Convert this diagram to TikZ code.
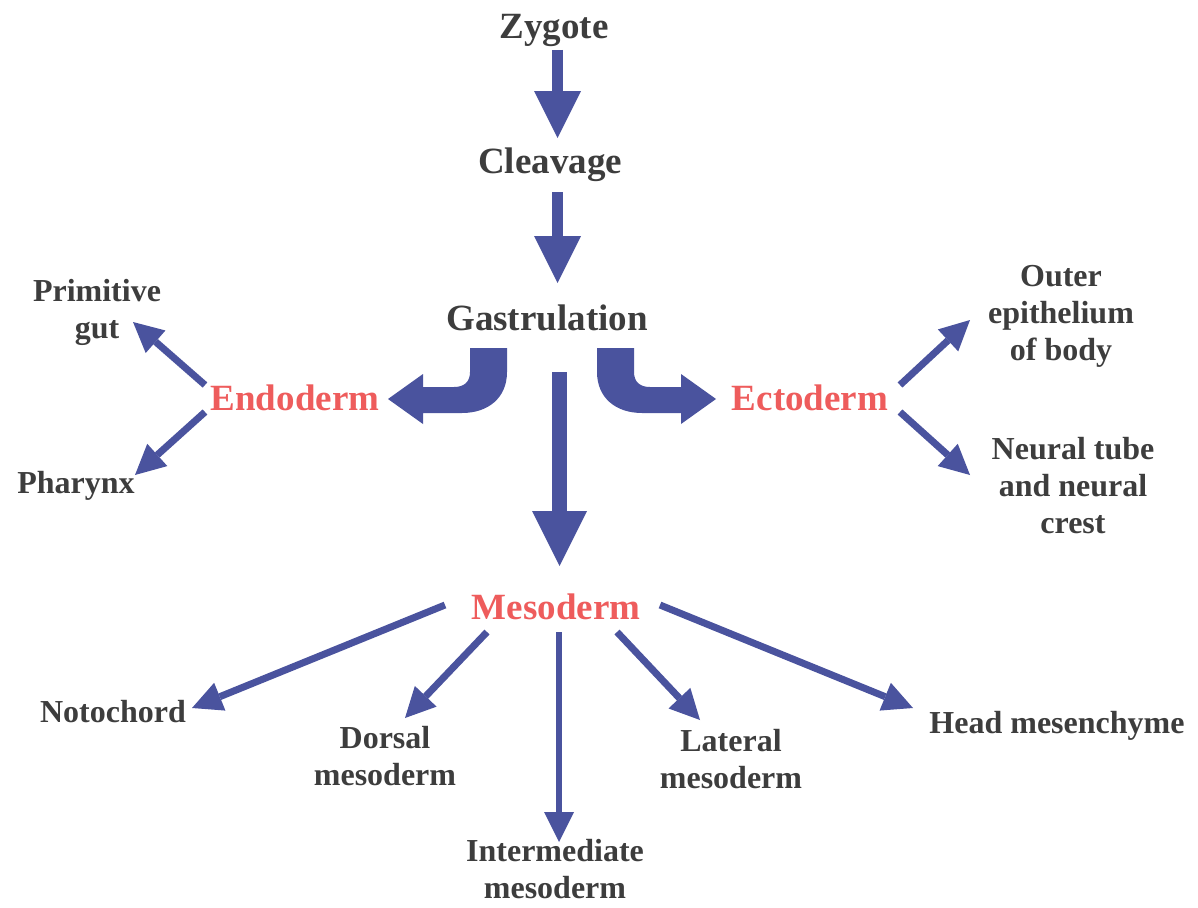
\documentclass[tikz,border=0pt]{standalone}
\usepackage{fontspec}
\setmainfont{Liberation Serif}
\usetikzlibrary{arrows.meta}
\definecolor{ablue}{HTML}{4A539E}
\definecolor{tgray}{HTML}{3D3D3D}
\definecolor{tred}{HTML}{EE5C5C}
\begin{document}
\begin{tikzpicture}[x=1pt,y=-1pt,
  main/.style={font=\fontsize{37}{40}\selectfont\bfseries, text=tgray, inner sep=0pt, anchor=base},
  germ/.style={main, text=tred},
  sub/.style={font=\fontsize{32}{37}\selectfont\bfseries, text=tgray, inner sep=0pt, anchor=base, align=center},
  fatarrow/.style 2 args={draw=ablue, line width=#1, -{Triangle[length=#2,width=#2,line width=0pt]}},
  thinarrow/.style={draw=ablue, line width=7pt, -{Triangle[length=30pt,width=30pt,line width=0pt]}},
  bentarrow/.style={fill=ablue}]
\useasboundingbox (0,0) rectangle (1198,907);

% main stages
\node[main] (zyg) at (554,39) {Zygote};
\node[main] (clv) at (550,173) {Cleavage};
\node[main] (gas) at (547,330) {Gastrulation};
\node[germ] (endo) at (295,410) {Endoderm};
\node[germ] (ecto) at (810,410) {Ectoderm};
\node[germ] (meso) at (556,619) {Mesoderm};

% derivatives (base = baseline of last line)
\node[sub] (pg) at (97,338) {Primitive\\gut};
\node[sub] (phx) at (76,493) {Pharynx};
\node[sub] (outer) at (1061,360) {Outer\\epithelium\\of body};
\node[sub] (neural) at (1073,533) {Neural tube\\and neural\\crest};
\node[sub] (noto) at (113,722) {Notochord};
\node[sub] (dors) at (385,785) {Dorsal\\mesoderm};
\node[sub] (inter) at (555,898) {Intermediate\\mesoderm};
\node[sub] (lat) at (731,788) {Lateral\\mesoderm};
\node[sub] (head) at (1057,733) {Head mesenchyme};

% connector end points
\coordinate (zygS) at (557.5,50);   \coordinate (clvN) at (557.5,138);
\coordinate (clvS) at (557.5,192);  \coordinate (gasN) at (557.5,283);
\coordinate (gasS) at (559.5,372);  \coordinate (mesoN) at (559.5,566);

\coordinate (endoA) at (205,385);   \coordinate (pgT) at (133,322);
\coordinate (endoB) at (205,412);   \coordinate (phxT) at (135,475);
\coordinate (ectoA) at (900,385);   \coordinate (outerT) at (970,320);
\coordinate (ectoB) at (900,412);   \coordinate (neuralT) at (970,475);

\coordinate (mesoA) at (445,605);   \coordinate (notoT) at (192,708);
\coordinate (mesoB) at (487,632);   \coordinate (dorsT) at (405,718);
\coordinate (mesoC) at (559,632);   \coordinate (interT) at (559,842);
\coordinate (mesoD) at (617,632);   \coordinate (latT) at (700,720);
\coordinate (mesoE) at (660,605);   \coordinate (headT) at (913,708);

% fat straight arrows
\draw[fatarrow={11pt}{47pt}] (zygS) -- (clvN);
\draw[fatarrow={11pt}{47pt}] (clvS) -- (gasN);
\draw[fatarrow={15pt}{55pt}] (gasS) -- (mesoN);

% bent arrows Gastrulation -> Endoderm / Ectoderm
\fill[bentarrow] (470,348) -- (507,348) -- (507,372)
  .. controls (507,398) and (488,413) .. (462,413) -- (423,413) -- (423,424)
  -- (388,399) -- (423,374) -- (423,387) -- (454,387)
  .. controls (464,387) and (470,382) .. (470,372) -- cycle;
\fill[bentarrow] (634,348) -- (597,348) -- (597,372)
  .. controls (597,398) and (616,413) .. (642,413) -- (681,413) -- (681,424)
  -- (716,399) -- (681,374) -- (681,387) -- (650,387)
  .. controls (640,387) and (634,382) .. (634,372) -- cycle;

% thin arrows
\draw[thinarrow] (endoA) -- (pgT);
\draw[thinarrow] (endoB) -- (phxT);
\draw[thinarrow] (ectoA) -- (outerT);
\draw[thinarrow] (ectoB) -- (neuralT);
\draw[thinarrow] (mesoA) -- (notoT);
\draw[thinarrow] (mesoB) -- (dorsT);
\draw[thinarrow, line width=6pt] (mesoC) -- (interT);
\draw[thinarrow] (mesoD) -- (latT);
\draw[thinarrow] (mesoE) -- (headT);
\end{tikzpicture}
\end{document}
